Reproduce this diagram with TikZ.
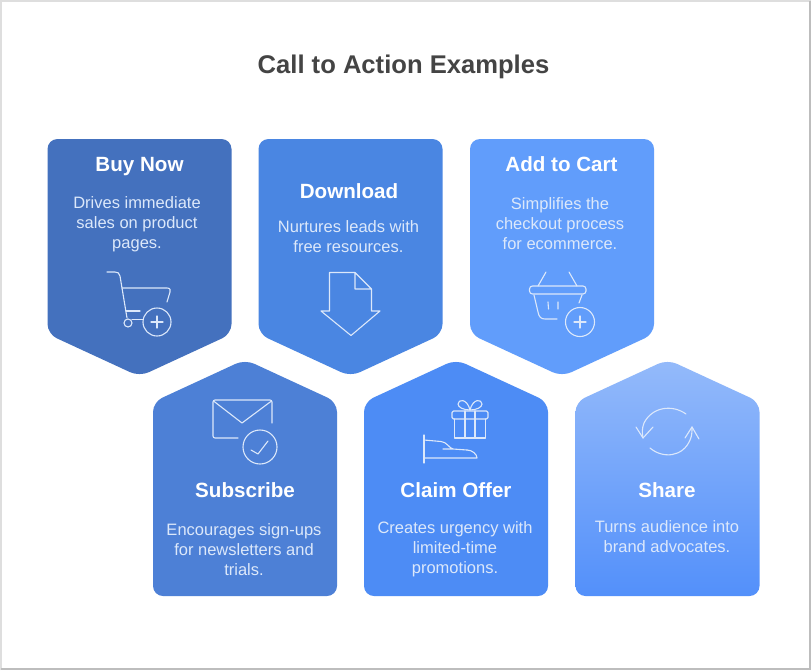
\documentclass[tikz,border=0pt]{standalone}
\usepackage{fontspec}
\setmainfont{Liberation Sans}
\definecolor{cBuy}{HTML}{4471BE}
\definecolor{cDown}{HTML}{4A86E2}
\definecolor{cCart}{HTML}{619DFB}
\definecolor{cSub}{HTML}{4D80D6}
\definecolor{cClaim}{HTML}{4D8CF5}
\definecolor{cShareT}{HTML}{94BAFA}
\definecolor{cShareB}{HTML}{5390FA}
\definecolor{cIcon}{HTML}{DCE8FA}
\definecolor{cTitle}{HTML}{444444}
\definecolor{cFrameA}{HTML}{DEDEDE}
\definecolor{cFrameB}{HTML}{BDBDBD}
\tikzset{
  x=1pt,y=-1pt,
  card/.style={rounded corners=10pt,draw=none},
  head/.style={font=\fontsize{20.6}{24}\selectfont\bfseries,text=white,inner sep=0pt,anchor=center,text height=15pt,text depth=0pt},
  body/.style={font=\fontsize{16.5}{20}\selectfont,text=cIcon,inner sep=0pt,align=center,anchor=center},
  ttl/.style={font=\fontsize{25.6}{30}\selectfont\bfseries,text=cTitle,inner sep=0pt,anchor=center},
  ico/.style={draw=cIcon,line width=1.1pt,line join=round,line cap=round,fill=none},
}
\begin{document}
\begin{tikzpicture}
\useasboundingbox (0,0) rectangle (811,670);
\fill[white] (0,0) rectangle (811,670);
\draw[cFrameA,line width=2pt] (1,670) -- (1,1) -- (811,1);
\draw[cFrameB,line width=2pt] (810,1) -- (810,669) -- (1,669);
\node[ttl] (title) at (403.5,66.5) {Call to Action Examples};

% top row
\fill[cBuy,card] (47.5,139) -- (231.5,139) -- (231.5,334) -- (139.5,376.5) -- (47.5,334) -- cycle;
\fill[cDown,card] (258.5,139) -- (442.5,139) -- (442.5,334) -- (350.5,376.5) -- (258.5,334) -- cycle;
\fill[cCart,card] (470,139) -- (654,139) -- (654,334) -- (562,376.5) -- (470,334) -- cycle;
% bottom row
\fill[cSub,card] (153,402) -- (245,359.5) -- (337,402) -- (337,596) -- (153,596) -- cycle;
\fill[cClaim,card] (364,402) -- (456,359.5) -- (548,402) -- (548,596) -- (364,596) -- cycle;
\begin{scope}
\path[clip,card] (575.5,402) -- (667.5,359.5) -- (759.5,402) -- (759.5,596) -- (575.5,596) -- cycle;
\shade[top color=cShareT,bottom color=cShareB] (575,359) rectangle (760,596);
\end{scope}

\node[head] (h1) at (139.5,164) {Buy Now};
\node[body] (b1) at (137,224) {Drives immediate\\sales on product\\pages.};
\node[head] (h2) at (349,191) {Download};
\node[body] (b2) at (348.5,236.5) {Nurtures leads with\\free resources.};
\node[head] (h3) at (561.5,164) {Add to Cart};
\node[body] (b3) at (560,224) {Simplifies the\\checkout process\\for ecommerce.};
\node[head] (h4) at (245,490) {Subscribe};
\node[body] (b4) at (244,549.5) {Encourages sign-ups\\for newsletters and\\trials.};
\node[head] (h5) at (456,490) {Claim Offer};
\node[body] (b5) at (455,549.5) {Creates urgency with\\limited-time\\promotions.};
\node[head] (h6) at (667,490) {Share};
\node[body] (b6) at (667,536.5) {Turns audience into\\brand advocates.};

% cart icon
\draw[ico] (107,272) -- (115,272) .. controls (118,272) and (119,273) .. (120,276) -- (127,318);
\draw[ico] (122,288) -- (167,288) .. controls (170,288) and (171,290) .. (170,292) -- (167,302);
\draw[ico] (126,311) -- (140,311);
\draw[ico] (132,319.5) -- (143,319.5);
\draw[ico] (128,323) circle (4);
\draw[ico] (157,322) circle (14);
\draw[ico] (151,322) -- (163,322) (157,316) -- (157,328);

% download icon
\draw[ico] (355,272.5) -- (329.5,272.5) -- (329.5,311) -- (321,311) -- (351,335.5) -- (380,311) -- (371.5,311) -- (371.5,289) -- (355,272.5) -- (355,289) -- (371.5,289);

% basket icon
\draw[ico] (546,272) -- (538,286) (569,272) -- (577,286);
\draw[ico,rounded corners=3pt] (529.5,286) rectangle (586,294);
\draw[ico] (534,295) -- (538,312) .. controls (539,317) and (541,319) .. (545,319) -- (557,319);
\draw[ico] (582,295) -- (579,303);
\draw[ico] (548,302) -- (548.5,309) (558,302) -- (558,309);
\draw[ico] (580,322) circle (14.5);
\draw[ico] (574,322) -- (586,322) (580,316) -- (580,328);

% envelope icon
\draw[ico,rounded corners=2pt] (238,438) -- (213,438) -- (213,400) -- (272,400) -- (272,423);
\draw[ico] (213.5,401) -- (242,423) -- (271.5,401);
\draw[ico] (260,447) circle (17);
\draw[ico] (251,450) -- (258,454) -- (268,441);

% gift + hand icon
\draw[ico,rounded corners=1.5pt] (452,411) rectangle (488,419);
\draw[ico] (454.5,419) -- (454.5,438) -- (485.5,438) -- (485.5,419);
\draw[ico] (465,411) -- (465,438) (475,411) -- (475,438);
\draw[ico] (470,410) .. controls (463,410) and (458,407) .. (458,404) .. controls (458,399) and (467,398) .. (470,410) .. controls (473,398) and (482,399) .. (482,404) .. controls (482,407) and (477,410) .. (470,410);
\draw[ico] (424,435) -- (424,463);
\draw[ico] (424,440) -- (441,441.5) .. controls (447,442) and (449,448) .. (453,449) -- (467,450) (443,449) -- (453,449);
\draw[ico] (467,450) .. controls (472,450) and (477,454) .. (477,458) -- (424,458);

% share icon
\draw[ico] (686,414) .. controls (672,404) and (652,407) .. (644,423) .. controls (642,428) and (642,433) .. (643,438);
\draw[ico] (636,427) -- (643,438) -- (653,427);
\draw[ico] (650,448) .. controls (663,459) and (683,457) .. (690,440) .. controls (692,436) and (692,432) .. (692,427);
\draw[ico] (685,438) -- (692,427) -- (699,439);
\end{tikzpicture}
\end{document}
